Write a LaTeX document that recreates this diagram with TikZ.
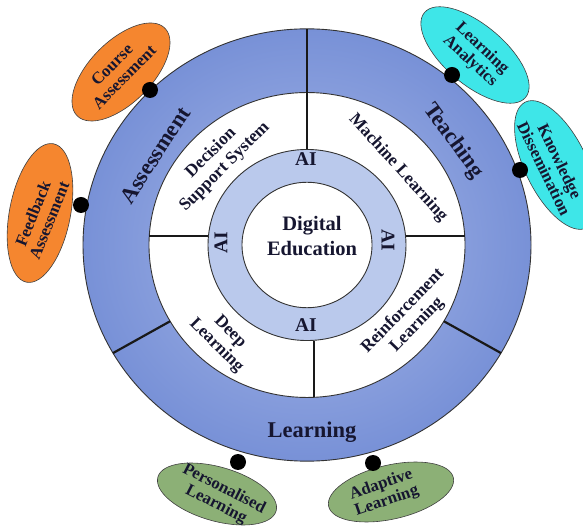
\documentclass[tikz,border=0pt]{standalone}
\usepackage{fontspec}
\setmainfont{Liberation Serif}
\usepackage{tikz}
\usepackage{xcolor}
\usetikzlibrary{shapes.geometric, positioning}

\definecolor{ringblue}{RGB}{120,145,215}
\definecolor{ringblueL}{RGB}{168,184,232}
\definecolor{aiblue}{RGB}{186,201,236}
\definecolor{bubOrange}{RGB}{245,134,47}
\definecolor{bubCyan}{RGB}{62,230,232}
\definecolor{bubGreen}{RGB}{140,176,118}
\definecolor{inkNavy}{RGB}{22,22,48}

\tikzset{
  sector/.style={font=\bfseries\fontsize{22.5}{24}\selectfont, text=inkNavy},
  method/.style={font=\bfseries\fontsize{17.5}{19.5}\selectfont, text=inkNavy, align=center},
  ailabel/.style={font=\bfseries\fontsize{19.5}{20}\selectfont, text=inkNavy},
  bubble/.style={ellipse, draw=black!75, line width=0.6pt, inner sep=0pt},
  bubtext/.style={font=\bfseries\fontsize{16.8}{17.5}\selectfont, text=inkNavy, align=center},
  joint/.style={circle, fill=black, inner sep=0pt, minimum size=16pt},
  divider/.style={line width=2.2pt, black!90},
}

\begin{document}
\begin{tikzpicture}[x=1pt, y=1pt]
\useasboundingbox (0,0) rectangle (583,527);
\coordinate (c) at (307,282);

% rings
\begin{scope}[shift={(c)}, yscale=0.965]
  \shade[inner color=ringblueL, outer color=ringblue] (0,0) circle (224);
  \draw[black!80, line width=0.9pt] (0,0) circle (224);
  \draw[fill=white, draw=black!80, line width=0.9pt] (0,0) circle (158);
  \draw[fill=aiblue, draw=black!80, line width=0.9pt] (0,0) circle (99);
  \draw[fill=white, draw=black!80, line width=0.9pt] (0,0) circle (65);
  \draw[divider] (90:99) -- (90:224);
  \draw[divider] (7,-99) -- (7,-157.8);
  \draw[divider] (-157.7,9.3) -- (-98.6,9.3);
  \draw[divider] (98.6,9.3) -- (157.7,9.3);
  \draw[divider] (210:158) -- (210:224);
  \draw[divider] (330:158) -- (330:224);
\end{scope}

% ring texts
\node[sector, rotate=57] (assess) at (155,372) {Assessment};
\node[sector, rotate=-54] (teach) at (453,386) {Teaching};
\node[sector] (learn) at (312,95) {Learning};

\node[method, rotate=45] (dss) at (218,367) {Decision\\Support System};
\node[method, rotate=-48] (ml) at (398,359) {Machine Learning};
\node[method, rotate=-45] (dl) at (223,188) {Deep\\Learning};
\node[method, rotate=46] (rl) at (410,209) {Reinforcement\\Learning};

\node[ailabel] (aiN) at (306,368) {AI};
\node[ailabel] (aiS) at (306,202) {AI};
\node[ailabel, rotate=90] (aiW) at (221,284) {AI};
\node[ailabel, rotate=-90] (aiE) at (388,287) {AI};

\node[font=\bfseries\fontsize{20.5}{25}\selectfont, text=inkNavy, align=center] (core) at (312,291) {Digital\\Education};

% bubbles
\node[bubble, fill=bubOrange, minimum width=124pt, minimum height=62pt, rotate=45] (courseE) at (121,455) {};
\node[bubtext, rotate=45] (course) at (118,456) {Course\\Assessment};
\node[bubble, fill=bubOrange, minimum width=141pt, minimum height=61pt, rotate=79] (feedE) at (40,314) {};
\node[bubtext, rotate=68] (feed) at (41,310) {Feedback\\Assessment};

\node[bubble, fill=bubCyan, minimum width=132pt, minimum height=60pt, rotate=-40] (analyticsE) at (475,472) {};
\node[bubtext, rotate=-43] (analytics) at (476,472) {Learning\\Analytics};
\node[bubble, fill=bubCyan, minimum width=140pt, minimum height=62pt, rotate=-64] (knowE) at (556,362) {};
\node[bubtext, rotate=-64] (know) at (552,362) {Knowledge\\Dissemination};

\node[bubble, fill=bubGreen, minimum width=123pt, minimum height=54pt, rotate=-16] (persE) at (217,33) {};
\node[bubtext, rotate=-27] (pers) at (220,30) {Personalised\\Learning};
\node[bubble, fill=bubGreen, minimum width=128pt, minimum height=54pt, rotate=13] (adaptE) at (391,35) {};
\node[bubtext, rotate=19] (adapt) at (384,34) {Adaptive\\Learning};

% joints
\node[joint] (courseJ) at (150,437) {};
\node[joint] (feedJ) at (81,322) {};
\node[joint] (analyticsJ) at (452,452) {};
\node[joint] (knowJ) at (520,357) {};
\node[joint] (persJ) at (238,65) {};
\node[joint] (adaptJ) at (373,64) {};
\end{tikzpicture}
\end{document}
